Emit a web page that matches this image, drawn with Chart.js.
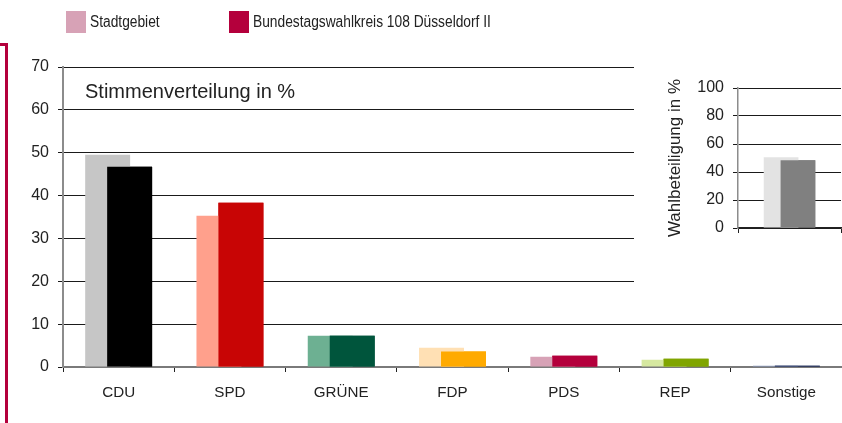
<!DOCTYPE html>
<html>
<head>
<meta charset="utf-8">
<script src="https://cdn.jsdelivr.net/npm/chart.js@4"></script>
<style>
  body { margin: 0; background: #fff; }
  #wrap { position: relative; width: 842px; height: 423px; overflow: hidden; font-family: "Liberation Sans", Arial, sans-serif; color: #222; }
  #main { position: absolute; left: 0; top: 0; }
  #inset { position: absolute; left: 634px; top: 55px; background: #fff; }
  .bracket { position: absolute; left: -10px; top: 43px; width: 15px; height: 420px; border-top: 3px solid #b4003c; border-right: 3px solid #b4003c; }
  .legend { position: absolute; top: 11px; height: 22px; display: flex; align-items: center; font-size: 16px; white-space: nowrap; }
  .legend .box { width: 20px; height: 22px; margin-right: 4px; display: inline-block; }
  .legend .txt { display: inline-block; transform: scaleX(0.86); transform-origin: left center; }
</style>
</head>
<body>
<div id="wrap">
  <canvas id="main" width="842" height="423"></canvas>
  <canvas id="inset" width="208" height="245"></canvas>
  <div class="bracket"></div>
  <div class="legend" style="left:66px"><span class="box" style="background:#d7a2b6"></span><span class="txt">Stadtgebiet</span></div>
  <div class="legend" style="left:229px"><span class="box" style="background:#b4003c"></span><span class="txt">Bundestagswahlkreis 108 Düsseldorf II</span></div>
</div>
<script>
// Stimmenverteilung in %
const categories = ['CDU', 'SPD', 'GRÜNE', 'FDP', 'PDS', 'REP', 'Sonstige'];
const stadtValues = [49.5, 35.3, 7.3, 4.5, 2.4, 1.7, 0.3];
const wahlkreisValues = [46.7, 38.3, 7.3, 3.6, 2.6, 1.9, 0.3];
const stadtColors = ['#c6c6c6', '#ffa08c', '#6db092', '#ffe0b4', '#d7a2b6', '#d6e8a0', '#8a9ac0'];
const wahlkreisColors = ['#000000', '#c80505', '#00553c', '#ffaa00', '#b4003c', '#80a500', '#1e2d5a'];
const yMax = 70;
const yStep = 10;

// Wahlbeteiligung in %
const turnoutLabels = [''];
const turnoutStadt = [50.5];
const turnoutWahlkreis = [48.4];
const turnoutColors = ['#e3e3e3', '#808080'];
const turnoutMax = 100;
const turnoutStep = 20;

const tickFont = { family: '"Liberation Sans", Arial, sans-serif', size: 16 };
const labelFont = { family: '"Liberation Sans", Arial, sans-serif', size: 15.2 };

// second series drawn over the first (bars overlap)
const overlapPlugin = {
    id: 'overlap',
    afterDatasetsDraw(chart) {
        chart.getDatasetMeta(1).controller.draw();
    }
};

const titlePlugin = {
    id: 'innerTitle',
    afterDraw(chart) {
        const ctx = chart.ctx;
        ctx.save();
        ctx.font = '20px "Liberation Sans", Arial, sans-serif';
        ctx.fillStyle = '#222';
        ctx.textBaseline = 'alphabetic';
        ctx.fillText('Stimmenverteilung in %', 85, 98);
        ctx.restore();
    }
};

const ctxMain = document.getElementById('main').getContext('2d');
const mainChart = new Chart(ctxMain, {
    type: 'bar',
    data: {
        labels: categories,
        datasets: [{
            label: 'Stadtgebiet',
            data: stadtValues,
            backgroundColor: stadtColors
        }, {
            label: 'Bundestagswahlkreis 108 Düsseldorf II',
            data: wahlkreisValues,
            backgroundColor: wahlkreisColors
        }]
    },
    options: {
        responsive: false,
        animation: false,
        devicePixelRatio: 1,
        categoryPercentage: 0.395,
        barPercentage: 2.045,
        layout: { padding: { top: 67, left: 0, right: 0, bottom: 0 } },
        plugins: { legend: { display: false }, tooltip: { enabled: false } },
        scales: {
            x: {
                afterFit(scale) { scale.height = 56; },
                grid: { drawOnChartArea: false, tickLength: 5, color: '#222' },
                border: { color: '#7a7a7a', width: 2 },
                ticks: { font: labelFont, color: '#222', padding: 12 }
            },
            y: {
                min: 0,
                max: yMax,
                afterFit(scale) { scale.width = 63; },
                grid: {
                    tickLength: 5,
                    color: (c) => c.tick && c.tick.value === 0 ? 'rgba(0,0,0,0)' : '#1a1a1a',
                    tickColor: '#1a1a1a'
                },
                border: { color: '#8c8c8c', width: 2 },
                ticks: { stepSize: yStep, font: tickFont, color: '#222', padding: 9 }
            }
        }
    },
    plugins: [overlapPlugin, titlePlugin]
});

const ctxInset = document.getElementById('inset').getContext('2d');
const insetChart = new Chart(ctxInset, {
    type: 'bar',
    data: {
        labels: turnoutLabels,
        datasets: [{
            label: 'Stadtgebiet',
            data: turnoutStadt,
            backgroundColor: turnoutColors[0]
        }, {
            label: 'Bundestagswahlkreis 108 Düsseldorf II',
            data: turnoutWahlkreis,
            backgroundColor: turnoutColors[1]
        }]
    },
    options: {
        responsive: false,
        animation: false,
        devicePixelRatio: 1,
        categoryPercentage: 0.327,
        barPercentage: 2.06,
        layout: { padding: { top: 33, left: 0, right: 1, bottom: 0 } },
        plugins: { legend: { display: false }, tooltip: { enabled: false } },
        scales: {
            x: {
                afterFit(scale) { scale.height = 72; },
                grid: { drawOnChartArea: false, tickLength: 5, color: '#222' },
                border: { color: '#222', width: 1.5 },
                ticks: { display: false }
            },
            y: {
                min: 0,
                max: turnoutMax,
                afterFit(scale) { scale.width = 104; },
                grid: { tickLength: 5, color: '#1a1a1a' },
                border: { color: '#8c8c8c', width: 1.5 },
                ticks: { stepSize: turnoutStep, font: tickFont, color: '#222', padding: 9 },
                title: {
                    display: true,
                    text: 'Wahlbeteiligung in %',
                    font: { family: '"Liberation Sans", Arial, sans-serif', size: 17 },
                    color: '#222',
                    padding: { top: 31, bottom: 0 }
                }
            }
        }
    },
    plugins: [overlapPlugin]
});
</script>
</body>
</html>
